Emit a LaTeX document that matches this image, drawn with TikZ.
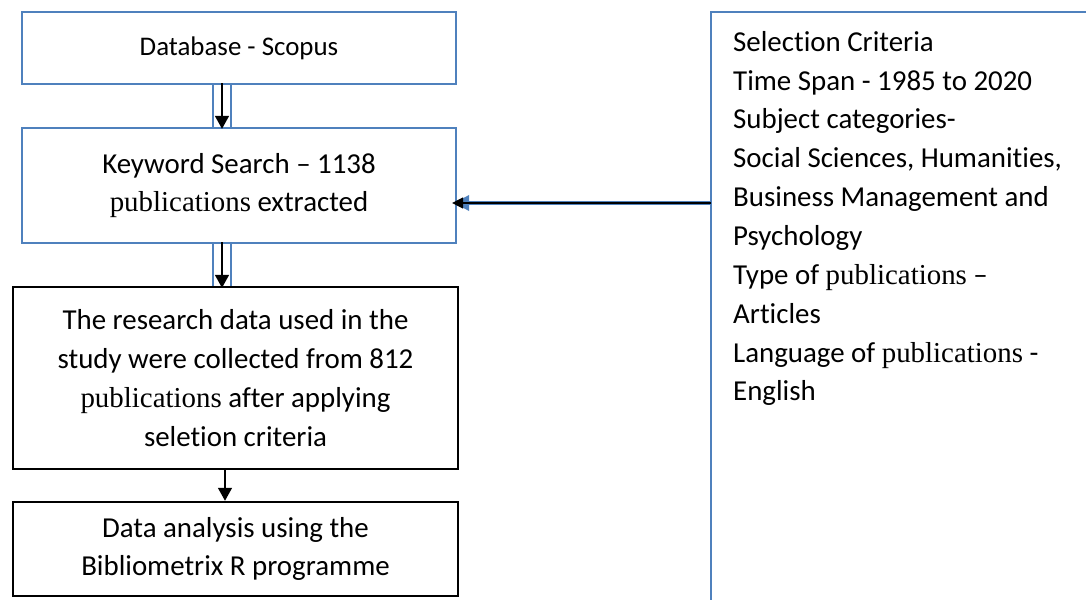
\documentclass[tikz,border=0pt]{standalone}
\usepackage{fontspec}
\setmainfont{Carlito}[Ligatures={TeX,NoCommon}]
\newfontfamily\serifpub{Liberation Serif}
\newcommand{\pubs}{{\serifpub publications}}
\usetikzlibrary{arrows.meta}
\definecolor{officeblue}{RGB}{79,129,189}

\begin{document}
\begin{tikzpicture}
[x=1bp,y=-1bp,
  boxtext/.style={inner sep=0pt,align=center,font=\fontsize{29}{39}\selectfont},%
  bluebox/.style={boxtext,draw=officeblue,line width=2.2bp,minimum width=434bp},%
  blackbox/.style={boxtext,draw=black,line width=2.5bp,minimum width=445bp},%
  linkbox/.style={draw=officeblue,line width=1.6bp,minimum width=18bp,minimum height=44bp,inner sep=0pt},%
  downarrow/.style={draw=black,line width=1.6bp,-{Triangle[length=13bp,width=14bp]}}]
\useasboundingbox (0,0) rectangle (1086,600);
%% boxes on the left
\node (db) at (239,48) [bluebox,minimum height=72bp,font=\fontsize{27}{39}\selectfont]
  {Database - Scopus};
\node (link1) at (222,106) [linkbox] {};
\node (kw) at (239,185.5) [bluebox,minimum height=115bp]
  {Keyword Search -- 1138\\ \pubs{} extracted};
\node (link2) at (222,265) [linkbox] {};
\node (data) at (235.5,378) [blackbox,minimum height=182bp]
  {The research data used in the\\ study were collected from 812\\
   \pubs{} after applying\\ seletion criteria};
\node (anal) at (235.5,549) [blackbox,minimum height=94bp]
  {Data analysis using the\\ Bibliometrix R programme};
%% criteria on the right
\draw[officeblue,line width=2.2bp] (1086,12) -| (711,600);
\node (crit) at (733,31) [anchor=north west,inner sep=0pt,align=left,
  font=\fontsize{29}{39}\selectfont]
  {Selection Criteria\\ Time Span - 1985 to 2020\\ Subject categories-\\
   Social Sciences, Humanities,\\ Business Management and\\ Psychology\\
   Type of \pubs{} --\\ Articles\\ Language of \pubs{} -\\ English};
\coordinate (critside) at (711,203);
%% arrows
\draw[downarrow] (link1.north) -- (link1.south);
\draw[downarrow] (link2.north) -- (link2.south);
\draw[downarrow] (data.south -| 225,0) -- (anal.north -| 225,0);
\draw[officeblue,line width=3.6bp,-{Triangle[length=15bp,width=15bp]}]
  (critside) -- ([xshift=-3bp]critside -| kw.east);
\draw[black,line width=1.4bp,-{Triangle[length=11bp,width=11bp]}]
  (critside) -- ([xshift=-5bp]critside -| kw.east);
\end{tikzpicture}
\end{document}
